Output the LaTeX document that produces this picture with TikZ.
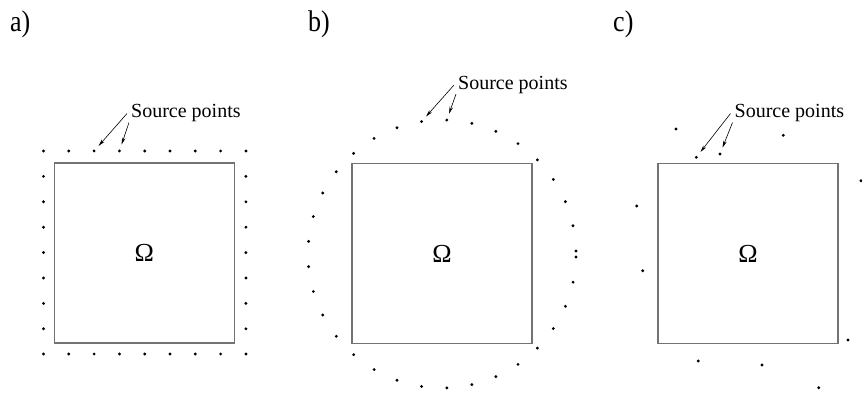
\documentclass[tikz,border=0pt]{standalone}
\usepackage{fontspec}
\setmainfont{Liberation Serif}
\usetikzlibrary{arrows.meta,positioning,calc}

\begin{document}
\begin{tikzpicture}[
  x=1pt,y=-1pt,
  region/.style={draw=black!55,line width=1.2pt,minimum size=180pt,inner sep=0pt,
    font=\fontsize{26}{26}\selectfont},
  srcdot/.style={circle,fill=black,inner sep=0pt,minimum size=3.2pt},
  srclabel/.style={inner sep=0pt,anchor=base west,font=\fontsize{20}{20}\selectfont},
  panel/.style={inner sep=0pt,anchor=base west,font=\fontsize{26}{26}\selectfont,yscale=1.15},
  pointer/.style={-{Stealth[length=7pt,width=3.5pt]},line width=0.6pt,shorten >=5pt}
]
  \useasboundingbox (0,0) rectangle (862,395);
  % Panel labels
  \node[panel] (la) at (10,31.5) {a)};
  \node[panel] (lb) at (308,31.5) {b)};
  \node[panel] (lc) at (613,31.5) {c)};
  % a) points on a square
  \node[region] (sqa) at (144.3,253) {Ω};
  \foreach \i in {0,...,8} {
    \node[srcdot] (at\i) at (43.5+25.3*\i,151) {};
    \node[srcdot] (ab\i) at (43.5+25.3*\i,354) {};
  }
  \foreach \i in {1,...,7} {
    \node[srcdot] (al\i) at (43.5,151+25.4*\i) {};
    \node[srcdot] (ar\i) at (245.9,151+25.4*\i) {};
  }
  \node[srclabel] (spa) at (131,118) {Source points};
  \draw[pointer] ([xshift=-4pt]spa.west) -- (at2);
  \draw[pointer] ([shift={(-2,9)}]spa.west) -- (at3);
  % b) points on a circle
  \node[region] (sqb) at (442,253.7) {Ω};
  \foreach \k in {0,...,33}
    \node[srcdot] (b\k) at ($(442,254)+({1.3+10.83*\k}:134)$) {};
  \node[srclabel] (spb) at (458,89.5) {Source points};
  \draw[pointer] ([xshift=-4pt]spb.west) -- (b24);
  \draw[pointer] ([shift={(-2,9)}]spb.west) -- (b25);
  % c) scattered points
  \node[region] (sqc) at (748,253.5) {Ω};
  \foreach \p [count=\n] in {(676,129),(783.3,135.3),(696.3,157.3),(720,154),
      (861,180.7),(636.7,206),(642.7,270.7),(848,340),(698.3,361),(762,365),(818.7,387.7)}
    \node[srcdot] (c\n) at \p {};
  \node[srclabel] (spc) at (734.5,118) {Source points};
  \draw[pointer] ([xshift=-4pt]spc.west) -- (c3);
  \draw[pointer] ([shift={(-2,9)}]spc.west) -- (c4);
\end{tikzpicture}
\end{document}
